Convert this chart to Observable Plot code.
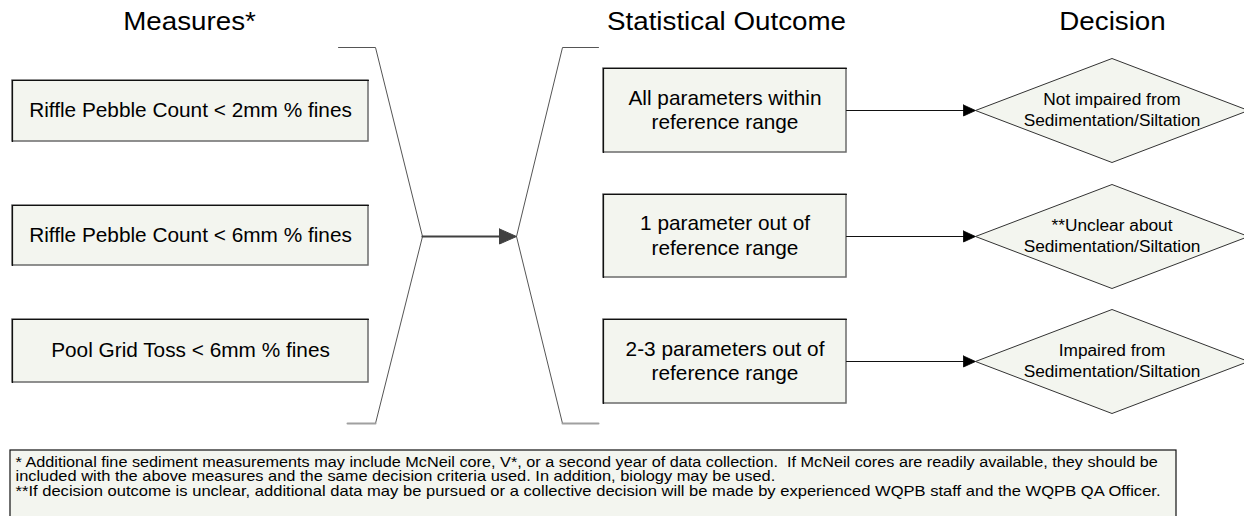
<!DOCTYPE html>
<html>
<head>
<meta charset="utf-8">
<script src="https://cdn.jsdelivr.net/npm/d3@7"></script>
<script src="https://cdn.jsdelivr.net/npm/@observablehq/plot@0.6"></script>
<style>
  html, body { margin: 0; padding: 0; background: #fff; }
  #chart svg { display: block; }
</style>
</head>
<body>
<div id="chart"></div>
<script>
// ---- content (text) ----
const headers = ["Measures*", "Statistical Outcome", "Decision"];
const measures = [
  "Riffle Pebble Count < 2mm % fines",
  "Riffle Pebble Count < 6mm % fines",
  "Pool Grid Toss < 6mm % fines"
];
const outcomes = [
  "All parameters within\nreference range",
  "1 parameter out of\nreference range",
  "2-3 parameters out of\nreference range"
];
const decisions = [
  "Not impaired from\nSedimentation/Siltation",
  "**Unclear about\nSedimentation/Siltation",
  "Impaired from\nSedimentation/Siltation"
];
const footnotes = [
  "* Additional fine sediment measurements may include McNeil core, V*, or a second year of data collection.  If McNeil cores are readily available, they should be",
  "included with the above measures and the same decision criteria used. In addition, biology may be used.",
  "**If decision outcome is unclear, additional data may be pursued or a collective decision will be made by experienced WQPB staff and the WQPB QA Officer."
];

// ---- layout (diagram geometry, in pixel units of an identity scale) ----
const W = 1244, H = 516;
const headerX = [189, 726, 1112];
const headerY = 21;
const measureX = [12, 368];
const measureTop = [80, 205, 319];
const measureBottom = [141, 265, 382];
const outcomeX = [603, 846];
const outcomeTop = [68, 194, 319];
const outcomeBottom = [152, 277, 403];
const rowY = [110, 236, 361];
const diamondLeft = 975, diamondHalfW = 136.5, diamondHalfH = 52;
const footBox = {x1: 10, x2: 1176, y1: 450, y2: 520};
const footY = [462, 476.5, 491];
const footStretch = [1.16, 1.172, 1.183];

const FILL = "#f3f5ef";

const measureRows = measures.map((label, i) => ({label, top: measureTop[i], bottom: measureBottom[i]}));
const outcomeRows = outcomes.map((label, i) => ({label, top: outcomeTop[i], bottom: outcomeBottom[i]}));
const decisionRows = decisions.map((label, i) => ({label, y: rowY[i]}));

// box edges: dark top/left, grey bottom/right
function boxEdges(rows, x1, x2) {
  const out = [];
  rows.forEach((r, i) => {
    out.push({id: "t" + i, x: x1, y: r.top}, {id: "t" + i, x: x2, y: r.top});
    out.push({id: "l" + i, x: x1, y: r.top}, {id: "l" + i, x: x1, y: r.bottom});
  });
  return out;
}

// brackets
const bracketPts = [
  {id: "L", x: 338, y: 47}, {id: "L", x: 375, y: 47}, {id: "L", x: 422, y: 236}, {id: "L", x: 375, y: 423},
  {id: "R", x: 598, y: 47}, {id: "R", x: 562, y: 47}, {id: "R", x: 516, y: 236}, {id: "R", x: 562, y: 423}
];
const bracketFeet = [
  {id: "L", x: 347, y: 423}, {id: "L", x: 375, y: 423},
  {id: "R", x: 562, y: 423}, {id: "R", x: 598, y: 423}
];

// central arrow
const mainShaft = [{x: 422, y: 236}, {x: 501, y: 236}];
const mainHead = [{x: 499, y: 228.5}, {x: 516, y: 236}, {x: 499, y: 243.5}, {x: 499, y: 228.5}];

// small arrows
const shafts = rowY.flatMap((y, i) => [{id: i, x: outcomeX[1], y}, {id: i, x: 964, y}]);
const heads = rowY.flatMap((y, i) => [
  {id: i, x: 963, y: y - 5.5}, {id: i, x: diamondLeft, y}, {id: i, x: 963, y: y + 5.5}, {id: i, x: 963, y: y - 5.5}
]);

// diamonds
const diamondPts = decisionRows.flatMap((d, i) => {
  const cx = diamondLeft + diamondHalfW;
  return [
    {id: i, x: diamondLeft, y: d.y},
    {id: i, x: cx, y: d.y - diamondHalfH},
    {id: i, x: cx + diamondHalfW, y: d.y},
    {id: i, x: cx, y: d.y + diamondHalfH},
    {id: i, x: diamondLeft, y: d.y}
  ];
});

const chart = Plot.plot({
  width: W,
  height: H,
  margin: 0,
  x: {domain: [0, W], range: [0, W], axis: null},
  y: {domain: [0, H], range: [0, H], axis: null},
  style: {fontFamily: "'Liberation Sans', Arial, Helvetica, sans-serif", background: "#fff", color: "#000"},
  marks: [
    // headers
    Plot.text(headers, {x: (d, i) => headerX[i], y: headerY, text: d => d, fontSize: 25, fill: "#000"}),

    // measure boxes
    Plot.rect(measureRows, {x1: measureX[0], x2: measureX[1], y1: "top", y2: "bottom", fill: FILL, stroke: "#6b6b6b", strokeWidth: 1.5}),
    Plot.line(boxEdges(measureRows, measureX[0], measureX[1]), {x: "x", y: "y", z: "id", stroke: "#111", strokeWidth: 1.2}),
    Plot.text(measureRows, {x: (measureX[0] + measureX[1]) / 2, y: d => (d.top + d.bottom) / 2 - 0.5, text: "label", fontSize: 20.8, fill: "#000"}),

    // brackets
    Plot.line(bracketPts, {x: "x", y: "y", z: "id", stroke: "#555", strokeWidth: 1}),
    Plot.line(bracketFeet, {x: "x", y: "y", z: "id", stroke: "#a0a0a0", strokeWidth: 2}),

    // main arrow
    Plot.line(mainShaft, {x: "x", y: "y", stroke: "#404040", strokeWidth: 2.2}),
    Plot.line(mainHead, {x: "x", y: "y", fill: "#404040", stroke: "#404040", strokeWidth: 1}),

    // outcome boxes
    Plot.rect(outcomeRows, {x1: outcomeX[0], x2: outcomeX[1], y1: "top", y2: "bottom", fill: FILL, stroke: "#6b6b6b", strokeWidth: 1.5}),
    Plot.line(boxEdges(outcomeRows, outcomeX[0], outcomeX[1]), {x: "x", y: "y", z: "id", stroke: "#111", strokeWidth: 1.2}),
    Plot.text(outcomeRows, {x: (outcomeX[0] + outcomeX[1]) / 2, y: d => (d.top + d.bottom) / 2 - 1.5, text: "label", fontSize: 20.8, lineHeight: 1.18, fill: "#000"}),

    // small arrows
    Plot.line(shafts, {x: "x", y: "y", z: "id", stroke: "#111", strokeWidth: 1}),
    Plot.line(heads, {x: "x", y: "y", z: "id", fill: "#000", stroke: "#000", strokeWidth: 0.8}),

    // decision diamonds
    Plot.line(diamondPts, {x: "x", y: "y", z: "id", fill: FILL, stroke: "#333", strokeWidth: 1, curve: "linear"}),
    Plot.text(decisionRows, {x: diamondLeft + diamondHalfW, y: d => d.y - 1.5, text: "label", fontSize: 17.3, lineHeight: 1.2, fill: "#000"}),

    // footnote
    Plot.rect([footBox], {x1: "x1", x2: "x2", y1: "y1", y2: "y2", fill: FILL, stroke: "#111", strokeWidth: 1.2}),
    Plot.text(footnotes, {x: 15, y: (d, i) => footY[i], text: d => d, textAnchor: "start", fontSize: 14, fill: "#000"})
  ]
});

// horizontal stretch of the header and footnote text (reference glyphs are wider than tall)
function stretch(texts, factors) {
  d3.select(chart).selectAll("text")
    .filter(function () { return texts.includes(this.textContent); })
    .each(function () {
      const k = texts.indexOf(this.textContent);
      const f = Array.isArray(factors) ? factors[k] : factors;
      const t = this.getAttribute("transform") || "";
      this.setAttribute("transform", t + ` scale(${f},1)`);
    });
}
stretch(headers, 1.11);
stretch(footnotes, footStretch);

document.getElementById("chart").appendChild(chart);
</script>
</body>
</html>
